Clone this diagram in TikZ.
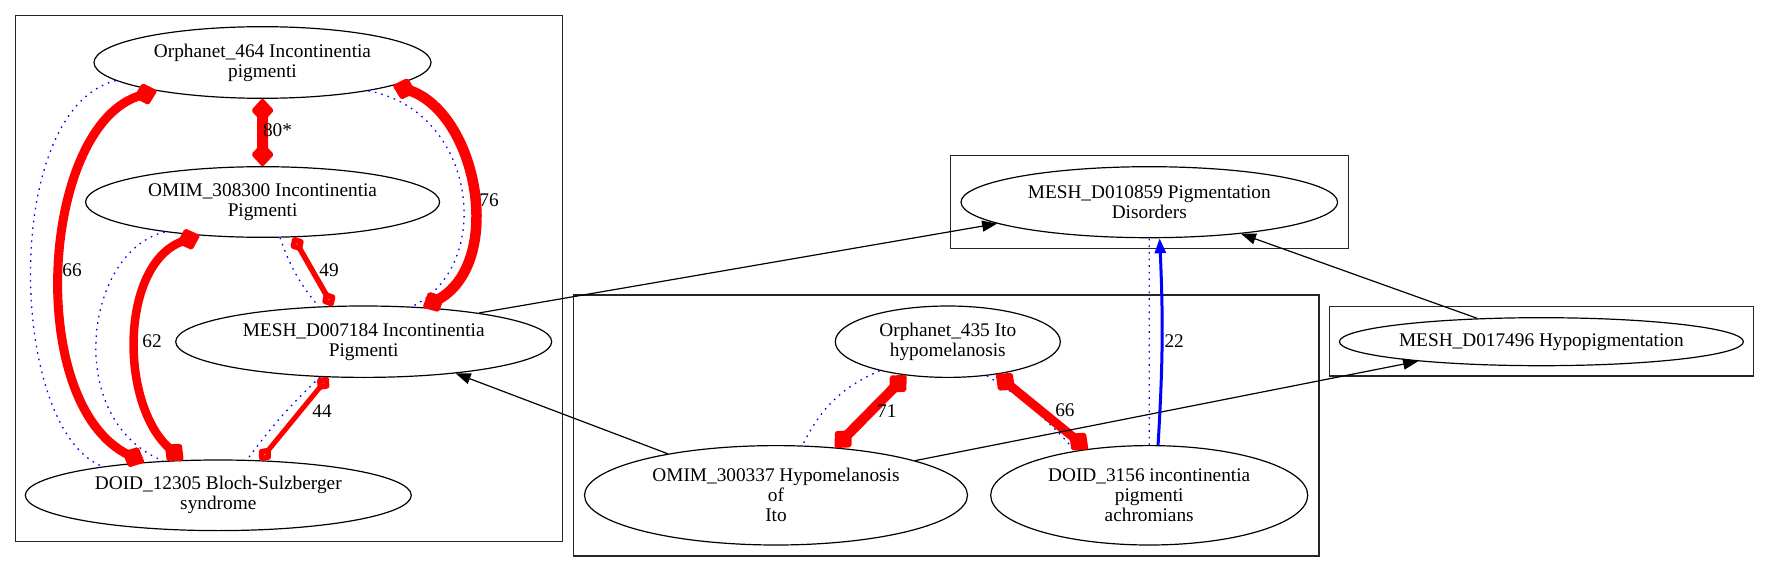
\documentclass[tikz,border=0pt]{standalone}
\usepackage{fontspec}
\setmainfont{Liberation Serif}
\usepackage{xcolor}
\usepackage{tikz}
\usetikzlibrary{
  shapes.geometric,
  arrows.meta
}
\definecolor{scorered}{RGB}{255, 0, 0}
\definecolor{simblue}{RGB}{0, 0, 255}
\tikzset{
  term/.style = {
    ellipse, draw=black, line width=1.2pt, inner sep=0pt,
    align=center
  },
  cluster/.style = {draw=black!85, line width=1.2pt},
  score/.style = {
    draw=scorered, line width=#1,
    {Diamond[round, length=25pt, width=23pt, line width=4pt]}-{Diamond[round, length=25pt, width=23pt, line width=4pt]}
  },
  score/.default = 9pt,
  wscore/.style = {
    draw=scorered, line width=#1,
    {Diamond[open, round, length=18pt, width=16pt, line width=5.5pt]}-{Diamond[open, round, length=18pt, width=16pt, line width=5.5pt]}
  },
  wscore/.default = 5pt,
  sim/.style  = {draw=simblue, line width=1.3pt, dash pattern=on 1.6pt off 5pt},
  xref/.style = {-{Triangle[length=15pt, width=11pt]}, draw=simblue, line width=3pt},
  isa/.style  = {-{Triangle[length=15pt, width=11pt]}, draw=black, line width=1.2pt},
  lbl/.style  = {inner sep=0pt},
}
\begin{document}
\begin{tikzpicture}[x=1pt, y=-1pt, font=\fontsize{19.3}{20}\selectfont]
  \useasboundingbox (0,0) rectangle (1769,572);

  % clusters
  \draw[cluster] (15.6,15.7) rectangle (562.7,541.7);
  \draw[cluster] (573.4,295) rectangle (1318.9,556);
  \draw[cluster] (950.6,155.7) rectangle (1348.2,248.3);
  \draw[cluster] (1329.6,306.7) rectangle (1753.1,376);

  % incontinentia pigmenti group (left)
  \node[term, minimum width=337pt, minimum height=71.6pt] (o464) at (262.5,62.5)
    {Orphanet\_464 Incontinentia\\pigmenti};
  \node[term, minimum width=354pt, minimum height=70.6pt] (o308) at (262.6,202)
    {OMIM\_308300 Incontinentia\\Pigmenti};
  \node[term, minimum width=376pt, minimum height=71.4pt] (m7184) at (363.7,341.7)
    {MESH\_D007184 Incontinentia\\Pigmenti};
  \node[term, minimum width=386pt, minimum height=70.6pt] (d12305) at (218.3,495.3)
    {DOID\_12305 Bloch-Sulzberger\\syndrome};

  % Ito group (middle)
  \node[term, minimum width=225pt, minimum height=71.4pt] (o435) at (947.8,341.7)
    {Orphanet\_435 Ito\\hypomelanosis};
  \node[term, minimum width=383pt, minimum height=99.4pt] (o300) at (776,495.3)
    {OMIM\_300337 Hypomelanosis\\of\\Ito};
  \node[term, minimum width=317pt, minimum height=99.4pt] (d3156) at (1149.2,495.3)
    {DOID\_3156 incontinentia\\pigmenti\\achromians};

  % parents (right)
  \node[term, minimum width=376.6pt, minimum height=71pt] (m10859) at (1149.3,202.2)
    {MESH\_D010859 Pigmentation\\Disorders};
  \node[term, minimum width=404pt, minimum height=48pt] (m17496) at (1541.4,341.7)
    {MESH\_D017496 Hypopigmentation};

  %% similarity (dotted)
  \draw[sim] (o464.187) .. controls +(-116,30) and +(-94,-35) .. (d12305.166);
  \draw[sim] (o464.345) .. controls +(108,20) and +(84,-41) .. (m7184.36);
  \draw[sim] (o308.197) .. controls +(-81,20) and +(-100,-40) .. (d12305.148);
  \draw[sim] (o308.296) to[bend right=10] (m7184.142);
  \draw[sim] (m7184.219) to[bend right=5] (d12305.51);
  \draw[sim] (o435.203) to[bend right=20] (o300.62);
  \draw[sim] (o435.319) to[bend left=8] (d3156.149);
  \draw[sim] (d3156.90) -- (m10859.270);

  %% scores
  \draw[score=11pt] (o464.270) -- (o308.90);
  \draw[score=10.5pt] (o464.350) .. controls +(84,25) and +(83,-43) .. (m7184.30);
  \draw[score=9pt] (o464.195) .. controls +(-116,33) and +(-120,-57) .. (d12305.156);
  \draw[score=8.5pt] (o308.208) .. controls +(-80,27) and +(-64,-55) .. (d12305.135);
  \draw[wscore=5.5pt] (o308.311) -- (m7184.131);
  \draw[wscore=5pt] (m7184.225) -- (d12305.40);
  \draw[score=10pt] (o435.219) -- (o300.39);
  \draw[score=9pt] (o435.326) -- (d3156.143);
  \draw[xref] (d3156.80) to[bend right=3] (m10859.286);

  % score labels
  \node[lbl] (l80) at (277.5,130) {80*};
  \node[lbl] (l76) at (489,200) {76};
  \node[lbl] (l66a) at (72,270.7) {66};
  \node[lbl] (l62) at (152,341) {62};
  \node[lbl] (l49) at (329,270.7) {49};
  \node[lbl] (l44) at (322,410.7) {44};
  \node[lbl] (l71) at (886.8,410.7) {71};
  \node[lbl] (l66b) at (1064.9,410.7) {66};
  \node[lbl] (l22) at (1174.2,340.7) {22};

  %% is-a arrows
  \draw[isa] (m7184.14) -- (m10859.188);
  \draw[isa] (o300.159) -- (m7184.341);
  \draw[isa] (o300.14) -- (m17496.189);
  \draw[isa] (m17496.160) -- (m10859.341);

\end{tikzpicture}
\end{document}
